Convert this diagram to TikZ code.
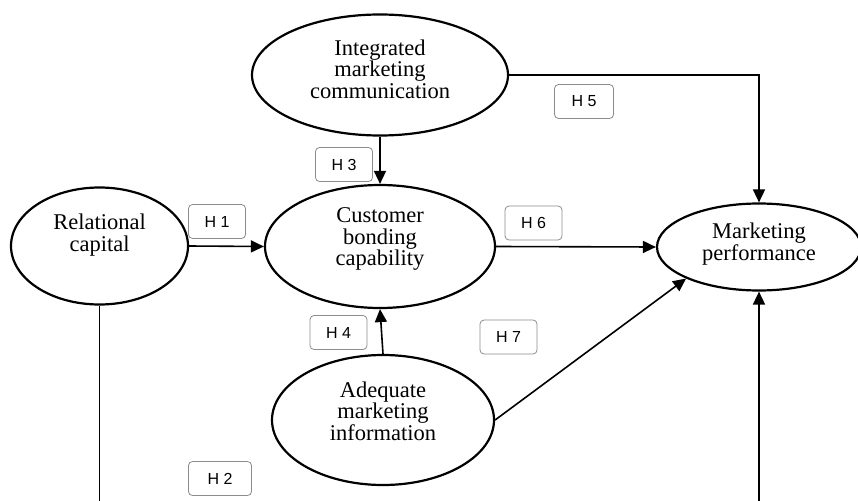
\documentclass[tikz,border=0pt]{standalone}
\usepackage{fontspec}
\setmainfont{Liberation Serif}
\newfontfamily\boxfont{Liberation Sans}
\usetikzlibrary{shapes.geometric,arrows.meta}
\begin{document}
\begin{tikzpicture}[x=1pt,y=-1pt,
  ell/.style={draw,ellipse,line width=2.2pt,inner sep=0pt},
  txt/.style={align=center,font=\fontsize{22.5}{21.5}\selectfont,inner sep=0pt},
  hbox/.style={draw=black!45,line width=0.8pt,rounded corners=4pt,minimum width=57pt,minimum height=34pt,inner sep=0pt,font=\boxfont\fontsize{16}{18}\selectfont},
  conn/.style={line width=1.6pt},
  arr/.style={conn,-{Triangle[length=13pt,width=12pt]}}]
\useasboundingbox (0,0) rectangle (858,500);
% ellipses
\node[ell,minimum width=256pt,minimum height=121pt] (imc) at (380,75) {};
\node[ell,minimum width=177pt,minimum height=117pt] (rc) at (99.5,246) {};
\node[ell,minimum width=230pt,minimum height=123pt] (cbc) at (380,246.5) {};
\node[ell,minimum width=204pt,minimum height=87pt] (mp) at (759,247) {};
\node[ell,minimum width=222pt,minimum height=130pt] (ami) at (383,420) {};
% texts
\node[txt] (imct) at (380,69) {Integrated\\marketing\\communication};
\node[txt] (rct) at (99.5,235) {Relational\\capital};
\node[txt] (cbct) at (380,239) {Customer\\bonding\\capability};
\node[txt] (mpt) at (759,244) {Marketing\\performance};
\node[txt] (amit) at (383,411) {Adequate\\marketing\\information};
% hypothesis labels
\node[hbox] (h1) at (217,221.5) {H 1};
\node[hbox,minimum width=63pt] (h2) at (220,478.5) {H 2};
\node[hbox] (h3) at (344,164.5) {H 3};
\node[hbox] (h4) at (338.5,332.5) {H 4};
\node[hbox,minimum width=59pt] (h5) at (584,101.5) {H 5};
\node[hbox] (h6) at (533.5,223) {H 6};
\node[hbox] (h7) at (508.5,337) {H 7};
% bottom ends
\coordinate (rcbot) at (rc.south |- 0,502);
\coordinate (mpbot) at (mp.south |- 0,502);
% connectors
\draw[arr] (rc.east) -- (cbc.west);
\draw[arr] (imc.south) -- (cbc.north);
\draw[arr] (ami.north) -- (cbc.south);
\draw[arr] (imc.east) -| (mp.north);
\draw[arr] (cbc.east) -- (mp.west);
\draw[arr] (ami.east) -- (mp.south west);
\draw[conn] (rc.south) -- (rcbot);
\draw[arr] (mpbot) -- (mp.south);
\end{tikzpicture}
\end{document}
